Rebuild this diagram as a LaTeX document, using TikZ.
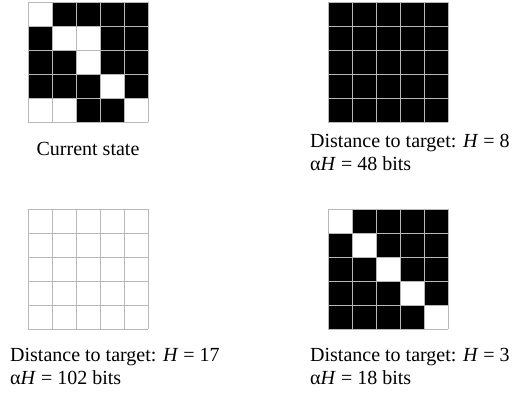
\documentclass[tikz,border=0pt]{standalone}
\usepackage{fontspec}
\setmainfont{Liberation Serif}
\definecolor{gridgray}{HTML}{B8B8B8}
\newcommand\pixgrid[3]{%
  \foreach \r/\c in {#3} {\fill[black] (#1+\c*24,#2+\r*24) rectangle ++(24,24);}
  \foreach \i in {0,...,5} {
    \draw[gridline] (#1+\i*24,#2) -- ++(0,120);
    \draw[gridline] (#1,#2+\i*24) -- ++(120,0);
  }%
}
\begin{document}
\begin{tikzpicture}[x=1pt,y=-1pt,
  gridline/.style={draw=gridgray,line width=0.7pt},
  lbl/.style={font=\fontsize{20}{23}\selectfont,inner sep=0pt,anchor=base west}]
\useasboundingbox (0,0) rectangle (512,393);
\fill[white] (0,0) rectangle (512,393);
% current state
\pixgrid{28}{2}{0/1,0/2,0/3,0/4,1/0,1/3,1/4,2/0,2/1,2/3,2/4,3/0,3/1,3/2,3/4,4/2,4/3}
% all black
\pixgrid{328}{2}{0/0,0/1,0/2,0/3,0/4,1/0,1/1,1/2,1/3,1/4,2/0,2/1,2/2,2/3,2/4,3/0,3/1,3/2,3/3,3/4,4/0,4/1,4/2,4/3,4/4}
% all white
\pixgrid{28}{209}{}
% diagonal white
\pixgrid{328}{209}{0/1,0/2,0/3,0/4,1/0,1/2,1/3,1/4,2/0,2/1,2/3,2/4,3/0,3/1,3/2,3/4,4/0,4/1,4/2,4/3}
% labels
\node[lbl,anchor=base] (cur) at (88,156) {Current state};
\node[lbl] (tra) at (310,148) {Distance to target: \textit{H} = 8};
\node[lbl] (trb) at (310,171) {α\textit{H} = 48 bits};
\node[lbl] (bla) at (10,361) {Distance to target: \textit{H} = 17};
\node[lbl] (blb) at (10,384) {α\textit{H} = 102 bits};
\node[lbl] (bra) at (310,361) {Distance to target: \textit{H} = 3};
\node[lbl] (brb) at (310,384) {α\textit{H} = 18 bits};
\end{tikzpicture}
\end{document}
